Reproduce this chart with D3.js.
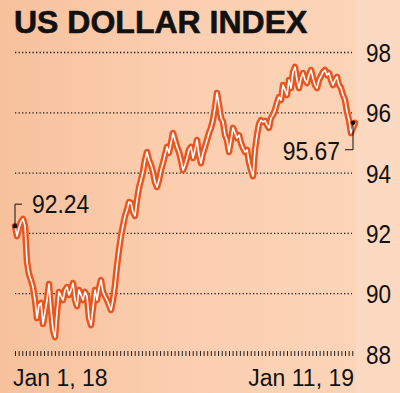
<!DOCTYPE html>
<html>
<head>
<meta charset="utf-8">
<script src="https://cdn.jsdelivr.net/npm/d3@7"></script>
<style>
  html,body{margin:0;padding:0;background:#fcd5ba;}
  svg{display:block;}
  text{font-family:"Liberation Sans",Arial,sans-serif;fill:#111;}
</style>
</head>
<body>
<div id="chart"></div>
<script>
// index values, evenly spread between the two end dates
const startDate = "2018-01-01";
const endDate = "2019-01-11";
const values = [
  92.24,91.91,92.18,92.38,92.48,92.25,91.05,90.65,90.45,90.22,89.79,89.19,89.63,89.69,89.00,89.39,
  89.79,90.32,89.46,88.80,88.56,89.39,90.06,89.92,89.79,90.12,90.22,89.96,90.12,90.35,89.79,89.59,
  90.12,89.96,89.79,90.06,89.92,89.19,88.96,89.53,90.12,89.79,90.19,90.45,90.06,89.92,89.79,89.63,
  89.46,89.79,90.29,90.92,91.45,91.91,92.25,92.58,92.78,93.04,93.01,92.71,92.58,93.11,93.51,93.77,
  94.04,94.43,94.70,94.43,94.27,94.04,93.70,93.54,93.77,94.10,94.33,94.60,94.87,94.67,95.00,95.33,
  95.10,94.87,94.70,94.43,94.10,94.27,94.50,94.77,94.87,94.50,94.77,95.10,94.60,94.33,94.67,94.87,
  95.10,95.33,95.50,95.76,96.16,96.66,96.26,95.83,95.70,95.26,95.10,94.70,95.10,95.50,95.33,95.16,
  95.26,95.00,94.83,94.70,94.77,94.37,94.10,93.90,94.77,95.26,95.63,95.76,95.70,95.73,95.60,95.50,
  95.83,95.93,96.09,96.33,96.52,96.42,96.92,96.76,96.59,97.09,96.82,97.35,97.52,97.09,96.82,97.15,
  97.32,97.09,96.99,97.25,97.42,97.15,96.92,96.82,97.09,97.22,97.35,97.42,97.25,97.32,97.09,96.92,
  97.09,97.19,96.92,96.82,96.59,96.42,96.03,95.76,95.33,95.50,95.67
];
const yTicks = [88, 90, 92, 94, 96, 98];
const gridTicks = [90, 92, 94, 96, 98];
const xLabels = ["Jan 1, 18", "Jan 11, 19"];
const startLabel = "92.24";
const endLabel = "95.67";

const w = 400, h = 393;
const parse = d3.timeParse("%Y-%m-%d");
const t0 = parse(startDate), t1 = parse(endDate);
const stepMs = (t1 - t0) / (values.length - 1);
const dataset = values.map((v, i) => [new Date(+t0 + i * stepMs), v]);

const xScale = d3.scaleTime().domain([t0, t1]).range([15, 355]);
const yScale = d3.scaleLinear().domain([88, 98]).range([354, 52.5]);

const svg = d3.select("#chart").append("svg").attr("width", w).attr("height", h);

const grad = svg.append("defs").append("linearGradient").attr("id", "bg")
  .attr("x1", "0").attr("x2", "1").attr("y1", "0").attr("y2", "0");
grad.append("stop").attr("offset", "0").attr("stop-color", "#f7c19c");
grad.append("stop").attr("offset", "0.45").attr("stop-color", "#fbcdae");
grad.append("stop").attr("offset", "1").attr("stop-color", "#fcd4b8");

svg.append("rect").attr("width", 356).attr("height", h).attr("fill", "url(#bg)");
svg.append("rect").attr("x", 356).attr("width", w - 356).attr("height", h).attr("fill", "#fdd9c1");

// title
svg.append("text")
   .text("US DOLLAR INDEX")
   .attr("x", 14).attr("y", 33)
   .style("font-size", "32px").style("font-weight", "bold")
   .attr("stroke", "#111").attr("stroke-width", 0.6);

// dotted gridlines
svg.selectAll("line.grid")
   .data(gridTicks)
   .enter()
   .append("line")
   .attr("class", "grid")
   .attr("x1", 15).attr("x2", 352)
   .attr("y1", d => yScale(d)).attr("y2", d => yScale(d))
   .attr("stroke", "#1a1a1a")
   .attr("stroke-width", 1.3)
   .attr("stroke-dasharray", "1.3,2.2");

// bottom tick row
const tickDates = d3.timeDay.range(t0, d3.timeDay.offset(t1, 1), 4);
const xAxis = d3.axisBottom(xScale).tickValues(tickDates).tickSize(5).tickFormat("");
const gx = svg.append("g")
   .attr("transform", `translate(0, ${yScale(88) - 3})`)
   .call(xAxis);
gx.select(".domain").remove();
gx.selectAll(".tick line").attr("stroke", "#222").attr("stroke-width", 1);

// y labels on the right
const yAxis = d3.axisRight(yScale).tickValues(yTicks).tickSize(0).tickFormat(d3.format("d"));
const gy = svg.append("g").attr("transform", "translate(366,0)").call(yAxis);
gy.select(".domain").remove();
gy.selectAll(".tick text")
  .attr("x", 0).attr("dy", "0.36em")
  .attr("transform", "scale(0.9,1)")
  .style("font-size", "25px")
  .style("font-family", "'Liberation Sans', Arial, sans-serif")
  .attr("fill", "#111");

// x labels
svg.append("text").text(xLabels[0])
   .attr("x", 13).attr("y", 386).style("font-size", "23px");
svg.append("text").text(xLabels[1])
   .attr("x", 354).attr("y", 386).attr("text-anchor", "end").style("font-size", "23px");

// the line: orange band with a white core
const line = d3.line().x(d => xScale(d[0])).y(d => yScale(d[1]));
svg.append("path").datum(dataset)
   .attr("d", line).attr("fill", "none")
   .attr("stroke", "#e9541f").attr("stroke-width", 6.5)
   .attr("stroke-linejoin", "round").attr("stroke-linecap", "round");
svg.append("path").datum(dataset)
   .attr("d", line).attr("fill", "none")
   .attr("stroke", "#fff").attr("stroke-width", 1.6)
   .attr("stroke-linejoin", "round");

// end annotations
const first = dataset[0], last = dataset[dataset.length - 1];
const fx = xScale(first[0]), fy = yScale(first[1]);
const lx = xScale(last[0]), ly = yScale(last[1]);

svg.append("path")
   .attr("d", `M${fx},${fy} V${fy - 22} H${fx + 7}`)
   .attr("fill", "none").attr("stroke", "#111").attr("stroke-width", 1);
svg.append("circle").attr("cx", fx).attr("cy", fy).attr("r", 2.3).attr("fill", "#111");
svg.append("text").text(startLabel)
   .attr("transform", `translate(${fx + 17},${fy - 13}) scale(0.88,1)`)
   .style("font-size", "26px");

svg.append("path")
   .attr("d", `M${lx - 2},${ly} V${ly + 27} H${lx - 10}`)
   .attr("fill", "none").attr("stroke", "#111").attr("stroke-width", 1);
svg.append("circle").attr("cx", lx - 2).attr("cy", ly).attr("r", 2.3).attr("fill", "#111");
svg.append("text").text(endLabel)
   .attr("text-anchor", "end")
   .attr("transform", `translate(${lx - 15},${ly + 37}) scale(0.88,1)`)
   .style("font-size", "26px");
</script>
</body>
</html>
